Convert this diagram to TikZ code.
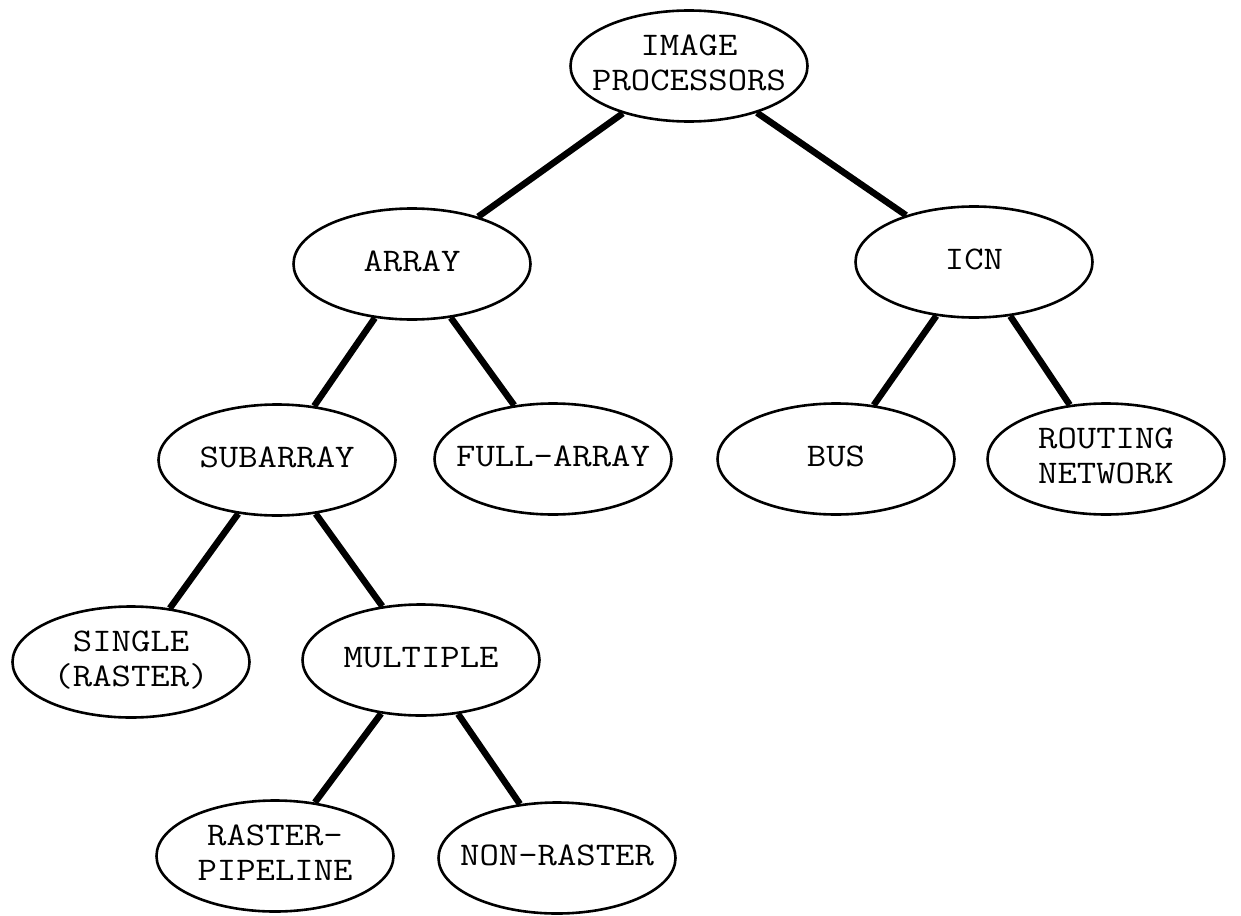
\documentclass[tikz,border=0pt]{standalone}
\usetikzlibrary{shapes.geometric}
% centred label text of zero width, so the oval size is set by the style alone
\newcommand\ovaltext[1]{\makebox[0pt]{\scalebox{1.14}[1]{\begin{tabular}{@{}c@{}}#1\end{tabular}}}}
\begin{document}
\begin{tikzpicture}[x=1pt,y=-1pt,
  oval/.style={draw, ellipse, line width=2.6pt, minimum width=237pt, minimum height=111pt,
    inner sep=0pt, font=\ttfamily\fontsize{33}{35}\selectfont},
  link/.style={line width=6.5pt}]
\useasboundingbox (0,0) rectangle (1241,915);

% classification tree of image processors
\node[oval] (ip)     at (689,66)   {\ovaltext{IMAGE\\PROCESSORS}};
\node[oval] (array)  at (412,264)  {\ovaltext{ARRAY}};
\node[oval] (icn)    at (974,262)  {\ovaltext{ICN}};
\node[oval] (sub)    at (277,460)  {\ovaltext{SUBARRAY}};
\node[oval] (full)   at (553,459)  {\ovaltext{FULL-ARRAY}};
\node[oval] (bus)    at (836,459)  {\ovaltext{BUS}};
\node[oval] (route)  at (1106,459) {\ovaltext{ROUTING\\NETWORK}};
\node[oval] (single) at (131,662)  {\ovaltext{SINGLE\\(RASTER)}};
\node[oval] (multi)  at (421,660)  {\ovaltext{MULTIPLE}};
\node[oval] (rp)     at (275,856)  {\ovaltext{RASTER-\\PIPELINE}};
\node[oval] (nr)     at (557,858)  {\ovaltext{NON-RASTER}};

\draw[link] (ip) -- (array);
\draw[link] (ip) -- (icn);
\draw[link] (array) -- (sub);
\draw[link] (array) -- (full);
\draw[link] (icn) -- (bus);
\draw[link] (icn) -- (route);
\draw[link] (sub) -- (single);
\draw[link] (sub) -- (multi);
\draw[link] (multi) -- (rp);
\draw[link] (multi) -- (nr);
\end{tikzpicture}
\end{document}
